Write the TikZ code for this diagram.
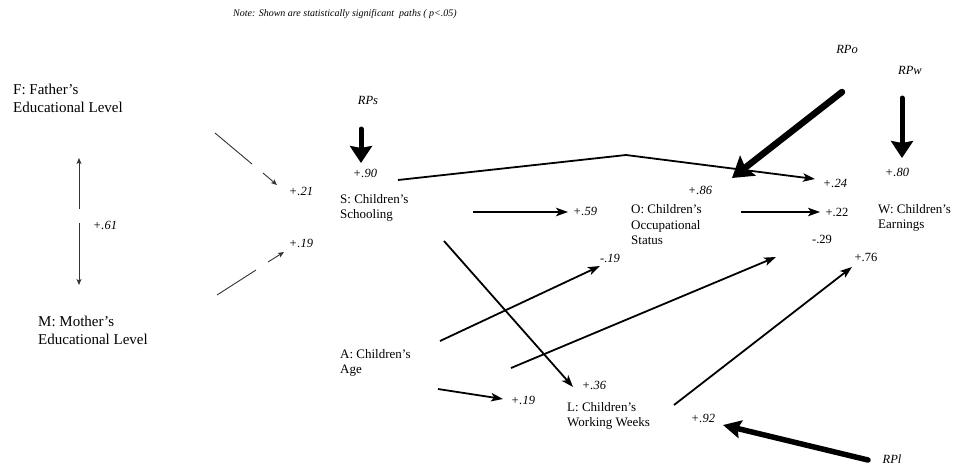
\documentclass[tikz,border=0pt]{standalone}
\usepackage{fontspec}
\setmainfont{Liberation Serif}
\usetikzlibrary{arrows.meta}
\begin{document}
\begin{tikzpicture}[x=1pt,y=-1pt,
  lbl/.style={font=\fontsize{13}{15.5}\selectfont, align=left, anchor=west, inner sep=0pt},
  biglbl/.style={font=\fontsize{15}{18}\selectfont, align=left, anchor=west, inner sep=0pt},
  coef/.style={font=\fontsize{12.5}{14}\selectfont\itshape, inner sep=0pt},
  coefu/.style={font=\fontsize{12.5}{14}\selectfont, inner sep=0pt},
  conn/.style={line width=1.8pt, -{Stealth[length=12pt,width=8.5pt,inset=3pt]}},
  thinconn/.style={line width=0.9pt, black!80},
  thinarr/.style={thinconn, -{Stealth[length=6pt,width=5pt,inset=1.5pt]}},
  heavy/.style={line width=5pt, line cap=round, -{Stealth[length=17pt,width=22pt,inset=2pt]}},
  heavier/.style={line width=6.5pt, line cap=round, -{Stealth[length=20pt,width=25pt,inset=3pt]}},
  heavyl/.style={line width=5.5pt, line cap=round, -{Stealth[length=18pt,width=18pt,inset=3pt]}}
]
\useasboundingbox (0,0) rectangle (955,467);

% note
\node[font=\fontsize{10}{12}\selectfont\itshape, anchor=west, inner sep=0pt] (note) at (233,14)
  {Note: Shown are statistically significant\ \ paths ( p<.05)};

% variable labels
\node[biglbl] (F) at (13,98) {F: Father's\\Educational Level};
\node[biglbl] (M) at (38,330) {M: Mother's\\Educational Level};
\node[lbl] (S) at (340,208) {S: Children's\\Schooling};
\node[lbl] (O) at (631,225) {O: Children's\\Occupational\\Status};
\node[lbl] (W) at (878,218) {W: Children's\\Earnings};
\node[lbl] (A) at (340,363) {A: Children's\\Age};
\node[lbl] (L) at (567,416) {L: Children's\\Working Weeks};

% coefficients and residual labels
\node[coef] (c61) at (105,225) {+.61};
\node[coef] (c21) at (301,191) {+.21};
\node[coef] (c19m) at (301,243) {+.19};
\node[coef] (RPs) at (368,100) {RPs};
\node[coef] (c90) at (365,173) {+.90};
\node[coef] (c59) at (585,211) {+.59};
\node[coef] (c24) at (835,183) {+.24};
\node[coef] (c86) at (700,190) {+.86};
\node[coef] (RPo) at (847,49) {RPo};
\node[coef] (RPw) at (910,70) {RPw};
\node[coef] (c80) at (897,172) {+.80};
\node[coefu] (c22) at (837,212) {+.22};
\node[coefu] (c29) at (822,239) {-.29};
\node[coefu] (c76) at (866,257) {+.76};
\node[coef] (cm19) at (610,258) {-.19};
\node[coef] (c36) at (594,385) {+.36};
\node[coef] (c19a) at (523,400) {+.19};
\node[coef] (c92) at (703,418) {+.92};
\node[coef] (RPl) at (892,459) {RPl};

% connector end points
\coordinate (fm1) at (79,209); \coordinate (fm2) at (79,158);
\coordinate (fm3) at (79,223); \coordinate (fm4) at (79,285);
\coordinate (fs1) at (215,133); \coordinate (fs2) at (252,164);
\coordinate (fs3) at (263,173); \coordinate (fs4) at (277,185);
\coordinate (ms1) at (217,295); \coordinate (ms2) at (256,270);
\coordinate (ms3) at (268,262); \coordinate (ms4) at (284,252);
\coordinate (rps1) at (361,129); \coordinate (rps2) at (361,163);
\coordinate (sw1) at (398,180); \coordinate (swk) at (626,155); \coordinate (sw2) at (815,179);
\coordinate (so1) at (473,212); \coordinate (so2) at (568,212);
\coordinate (sl1) at (444,241); \coordinate (sl2) at (573,387);
\coordinate (rpo1) at (842,92); \coordinate (rpo2) at (732,178);
\coordinate (rpw1) at (902,98); \coordinate (rpw2) at (902,158);
\coordinate (ow1) at (741,212); \coordinate (ow2) at (820,212);
\coordinate (ao1) at (440,341); \coordinate (ao2) at (600,266);
\coordinate (aw1) at (511,368); \coordinate (aw2) at (776,257);
\coordinate (al1) at (438,389); \coordinate (al2) at (503,399);
\coordinate (lw1) at (674,405); \coordinate (lw2) at (852,267);
\coordinate (rpl1) at (868,460); \coordinate (rpl2) at (723,425);

% connectors
\draw[thinarr] (fm1) -- (fm2);
\draw[thinarr] (fm3) -- (fm4);
\draw[thinconn] (fs1) -- (fs2);
\draw[thinarr] (fs3) -- (fs4);
\draw[thinconn] (ms1) -- (ms2);
\draw[thinarr] (ms3) -- (ms4);
\draw[heavy] (rps1) -- (rps2);
\draw[conn, line join=miter] (sw1) -- (swk) -- (sw2);
\draw[conn] (so1) -- (so2);
\draw[conn] (sl1) -- (sl2);
\draw[heavier] (rpo1) -- (rpo2);
\draw[heavy] (rpw1) -- (rpw2);
\draw[conn] (ow1) -- (ow2);
\draw[conn] (ao1) -- (ao2);
\draw[conn] (aw1) -- (aw2);
\draw[conn] (al1) -- (al2);
\draw[conn] (lw1) -- (lw2);
\draw[heavyl] (rpl1) -- (rpl2);
\end{tikzpicture}
\end{document}
